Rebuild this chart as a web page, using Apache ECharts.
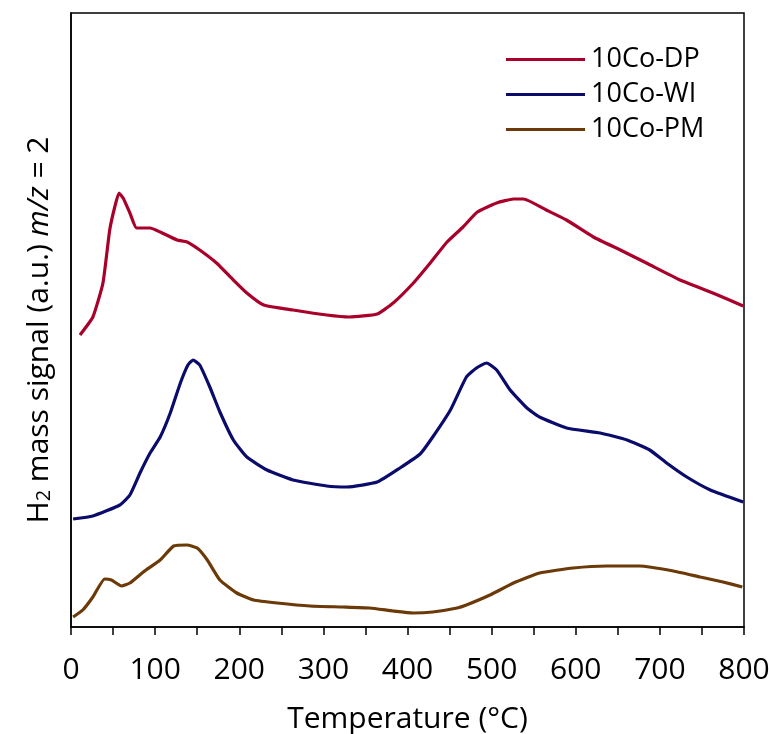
<!DOCTYPE html>
<html>
<head>
<meta charset="utf-8">
<script src="https://cdn.jsdelivr.net/npm/echarts@6/dist/echarts.min.js"></script>
<style>html,body{margin:0;padding:0;background:#fff}#chart{width:769px;height:734px}</style>
</head>
<body>
<div id="chart"></div>
<script>
// Temperature (°C) and H2 signal (a.u.)
var dpTemp   = [10.7,26,38,46,52,57,62,70,78,94,106,126,138,153,173,193,209,229,264,304,331,364,383,407,427,447,466,483,506,526,538,565,589,621,653,684,724,763,799];
var dpSignal = [292,310,344,397,420,434,429,414,399,399,395,387,385,377,364,347,334,322,317,312,310,313,324,344,364,385,400,415,424,428,428,417,407,390,377,364,347,334,321];

var wiTemp   = [2.5,26,58,70,82,94,106,118,130,139,145,153,165,177,193,209,233,264,304,328,364,391,415,430,451,470,482,494,506,522,542,557,589,629,661,688,708,732,760,799];
var wiSignal = [108,111,122,132,154,174,190,214,244,262,267,262,240,215,187,170,157,147,141,140,145,159,173,190,217,250,259,264,257,237,219,210,199,194,187,177,164,150,137,125];

var pmTemp   = [2.5,14,26,40,48,60,70,86,106,122,138,150,162,177,197,217,245,284,323,355,383,407,430,459,470,498,526,557,597,637,676,716,748,775,798];
var pmSignal = [10,17,30,48,47,41,44,55,67,81,82,79,67,47,34,27,24,21,20,19,16,14,15,19,22,32,44,54,59,61,61,56,50,45,40];

var seriesNames = ['10Co-DP','10Co-WI','10Co-PM'];
var xTicks = [0,100,200,300,400,500,600,700,800];

function pairs(xs, ys){ return xs.map(function(x,i){ return [x, ys[i]]; }); }

var FONT = 'Open Sans';
var chart = echarts.init(document.getElementById('chart'), null, {renderer:'canvas'});
chart.setOption({
  animation:false,
  backgroundColor:'#fff',
  grid:{left:71,right:25,top:13,bottom:107,show:true,borderColor:'#000',borderWidth:1.5,
        outerBoundsMode:'none',containLabel:false},
  legend:{
    orient:'vertical', left:501, top:37,
    icon:'rect', itemWidth:79, itemHeight:3, itemGap:0,
    data:seriesNames,
    textStyle:{fontFamily:FONT,fontSize:27,color:'#000',lineHeight:35,padding:[0,0,0,1]}
  },
  xAxis:{
    type:'value', min:0, max:800, interval:100,
    name:'Temperature (°C)', nameLocation:'middle', nameGap:77,
    nameTextStyle:{fontFamily:FONT,fontSize:30,color:'#000'},
    axisLine:{lineStyle:{color:'#000',width:1.5}},
    axisTick:{show:true,inside:false,length:8,lineStyle:{color:'#000',width:1.5}},
    minorTick:{show:true,splitNumber:2,length:8,lineStyle:{color:'#000',width:1.5}},
    axisLabel:{fontFamily:FONT,fontSize:30,color:'#000',margin:28,
      formatter:function(v){ return xTicks.indexOf(v)>=0 ? String(v) : ''; }},
    splitLine:{show:false}
  },
  yAxis:{
    type:'value', min:0, max:614,
    name:'{a|H}{s|2}{a| mass signal (a.u.) }{i|m/z}{a| = 2}',
    nameLocation:'middle', nameGap:17, nameRotate:90,
    nameTextStyle:{
      color:'#000',
      padding:[0,20,0,0],
      rich:{
        a:{fontFamily:FONT,fontSize:30,color:'#000',lineHeight:37,verticalAlign:'bottom'},
        i:{fontFamily:FONT,fontSize:30,color:'#000',fontStyle:'italic',lineHeight:37,verticalAlign:'bottom'},
        s:{fontFamily:FONT,fontSize:20,color:'#000',lineHeight:27,verticalAlign:'bottom'}
      }
    },
    axisLine:{show:true,lineStyle:{color:'#000',width:1.5}},
    axisTick:{show:false}, axisLabel:{show:false}, splitLine:{show:false}
  },
  series:[
    {name:seriesNames[0],type:'line',data:pairs(dpTemp,dpSignal),showSymbol:false,smooth:0.15,
     lineStyle:{color:'#A8002A',width:3.2},itemStyle:{color:'#A8002A'}},
    {name:seriesNames[1],type:'line',data:pairs(wiTemp,wiSignal),showSymbol:false,smooth:0.15,
     lineStyle:{color:'#0B0B6B',width:3.2},itemStyle:{color:'#0B0B6B'}},
    {name:seriesNames[2],type:'line',data:pairs(pmTemp,pmSignal),showSymbol:false,smooth:0.15,
     lineStyle:{color:'#6B3A08',width:3.2},itemStyle:{color:'#6B3A08'}}
  ]
});
</script>
</body>
</html>
